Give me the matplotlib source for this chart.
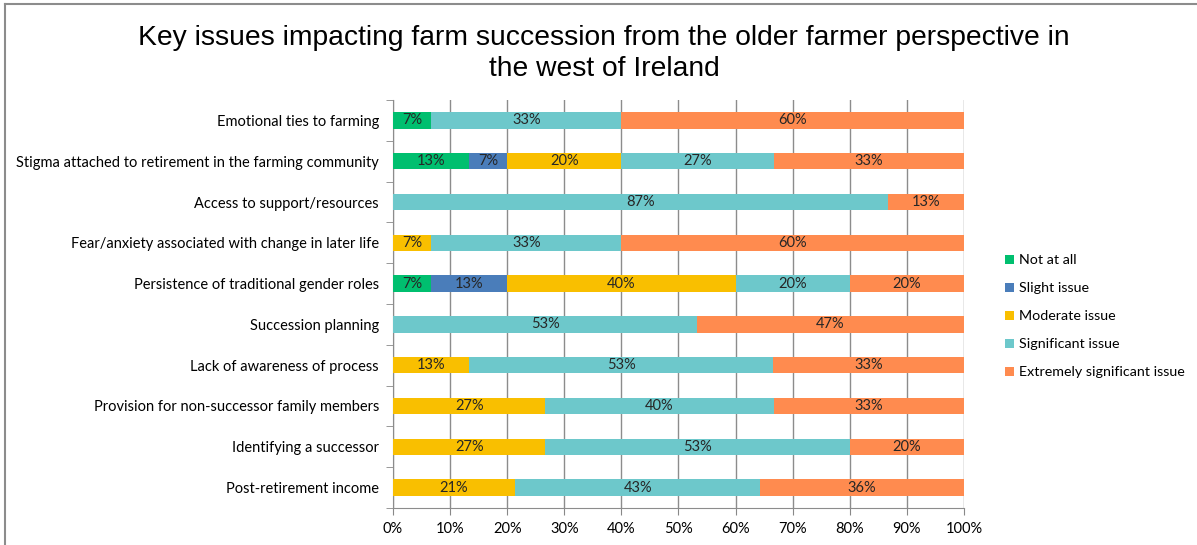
import matplotlib.pyplot as plt
import numpy as np
from matplotlib.lines import Line2D

plt.rcParams['font.family'] = ['Lato', 'DejaVu Sans']

categories = ['Emotional ties to farming',
              'Stigma attached to retirement in the farming community',
              'Access to support/resources',
              'Fear/anxiety associated with change in later life',
              'Persistence of traditional gender roles',
              'Succession planning',
              'Lack of awareness of process',
              'Provision for non-successor family members',
              'Identifying a successor',
              'Post-retirement income']
series = ['Not at all', 'Slight issue', 'Moderate issue',
          'Significant issue', 'Extremely significant issue']
not_at_all = [6.7, 13.3, 0, 0, 6.7, 0, 0, 0, 0, 0]
slight = [0, 6.7, 0, 0, 13.3, 0, 0, 0, 0, 0]
moderate = [0, 20.0, 0, 6.7, 40.0, 0, 13.3, 26.7, 26.7, 21.4]
significant = [33.3, 26.7, 86.7, 33.3, 20.0, 53.3, 53.3, 40.0, 53.3, 42.9]
extreme = [60.0, 33.3, 13.3, 60.0, 20.0, 46.7, 33.4, 33.3, 20.0, 35.7]
colors = ['#00BF6F', '#4A7DBA', '#F9BF00', '#6DC8CB', '#FF8B4F']

fig = plt.figure(figsize=(11.97, 5.45), dpi=100)
ax = fig.add_axes([0.3283, 0.0679, 0.8053 - 0.3283, 0.8165 - 0.0679])

y = np.arange(len(categories))
left = np.zeros(len(categories))
for name, vals, c in zip(series, [not_at_all, slight, moderate, significant, extreme], colors):
    vals = np.array(vals)
    bars = ax.barh(y, vals, height=0.4, left=left, color=c, label=name, zorder=3)
    ax.bar_label(bars, labels=[f'{v:.0f}%' if v > 0 else '' for v in vals],
                 label_type='center', fontsize=10.5, color='#262626')
    left += vals

ax.set_xlim(0, 100)
ax.set_ylim(len(categories) - 0.5, -0.5)
ax.set_xticks(np.arange(0, 101, 10))
ax.set_xticklabels([f'{t}%' for t in range(0, 101, 10)], fontsize=10.5)
ax.set_yticks(y)
ax.set_yticklabels(categories, fontsize=10.5)
ax.set_yticks(np.arange(-0.5, len(categories)), minor=True)
ax.tick_params(axis='y', which='major', length=0, pad=10)
ax.tick_params(axis='y', which='minor', length=5, color='#888888', direction='out')
ax.tick_params(axis='x', length=5, color='#888888', pad=5)
ax.grid(axis='x', color='#8c8c8c', lw=1, zorder=0)
for s in ['top', 'right']:
    ax.spines[s].set_visible(False)
for s in ['left', 'bottom']:
    ax.spines[s].set_color('#8c8c8c')

fig.text(0.5046, 0.955, 'Key issues impacting farm succession from the older farmer perspective in\nthe west of Ireland',
         ha='center', va='top', fontsize=20.3, family=['Liberation Sans'], linespacing=1.25)

fig.legend(loc='upper left', bbox_to_anchor=(0.829, 0.557), frameon=False, fontsize=10.3,
           handlelength=0.6, handleheight=0.6, handletextpad=0.4, labelspacing=1.12)

fig.add_artist(Line2D([0.0045, 0.0045], [0, 0.992], color='#8c8c8c', lw=1.5))
fig.add_artist(Line2D([0.0045, 1], [0.992, 0.992], color='#8c8c8c', lw=1.5))

fig.savefig('out.png', dpi=100)
